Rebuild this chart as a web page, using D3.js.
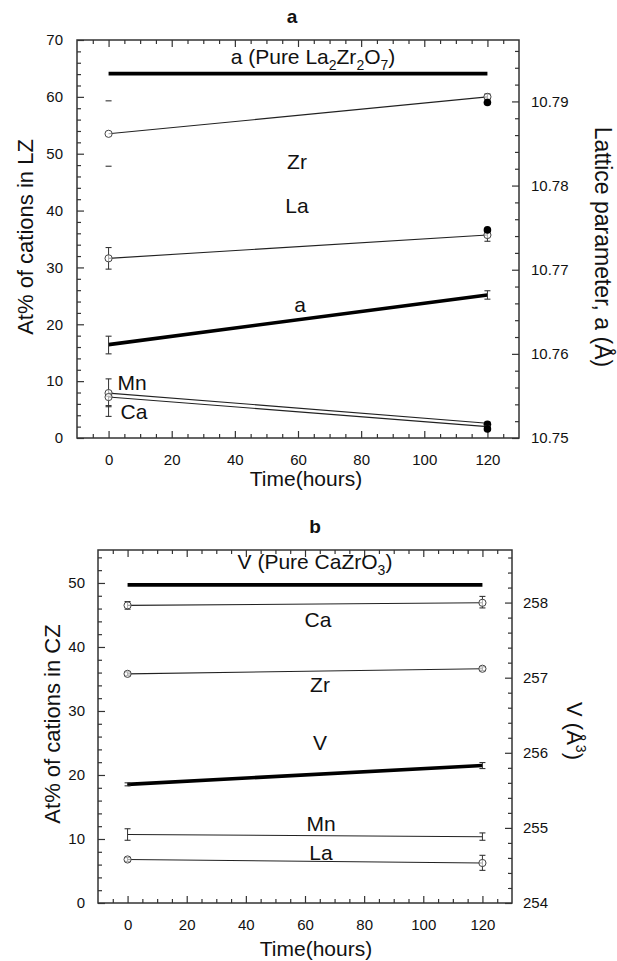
<!DOCTYPE html>
<html><head><meta charset="utf-8">
<script src="https://cdn.jsdelivr.net/npm/d3@7"></script>
<style>
body{margin:0;background:#fff}
svg{display:block}
text{font-family:"Liberation Sans",Arial,Helvetica,sans-serif;fill:#111}
</style>
</head><body>
<svg id="c" width="617" height="961"></svg>
<script>
// ---------- DATA ----------
const hours = [0, 120];
const xMajorTicks = [0, 20, 40, 60, 80, 100, 120];

// Panel a : At% of cations in LZ (left axis)
const aZr = [53.5, 60.0];
const aZrLo = [47.8, 59.6];
const aZrHi = [59.3, 60.5];
const aZrSolid = [null, 59.0];
const aLa = [31.6, 35.7];
const aLaLo = [29.7, 34.6];
const aLaHi = [33.5, 36.7];
const aLaSolid = [null, 36.6];
const aMn = [7.9, 2.6];
const aMnLo = [5.5, 2.4];
const aMnHi = [10.4, 2.8];
const aMnSolid = [null, 2.4];
const aCa = [7.2, 2.0];
const aCaLo = [3.8, 1.8];
const aCaHi = [5.7, 2.2];
const aCaSolid = [null, 1.6];
// Panel a : lattice parameter (right axis)
const aLattice = [10.7611, 10.7670];
const aLatticeLo = [10.7600, 10.7665];
const aLatticeHi = [10.7621, 10.7675];
const aLatticePure = [10.7933, 10.7933];
const aLeftTicks = [0, 10, 20, 30, 40, 50, 60, 70];
const aRightTicks = [10.75, 10.76, 10.77, 10.78, 10.79];

// Panel b : At% of cations in CZ (left axis)
const bCa = [46.5, 46.9];
const bCaLo = [45.9, 46.1];
const bCaHi = [47.1, 47.9];
const bZr = [35.8, 36.6];
const bZrLo = [35.5, 36.3];
const bZrHi = [36.1, 36.9];
const bMn = [10.7, 10.35];
const bMnLo = [9.8, 9.8];
const bMnHi = [11.6, 10.95];
const bLa = [6.8, 6.25];
const bLaLo = [6.5, 5.1];
const bLaHi = [7.1, 7.45];
// Panel b : V (right axis)
const bV = [255.58, 255.83];
const bVLo = [255.56, 255.79];
const bVHi = [255.60, 255.87];
const bVPure = [258.236, 258.236];
const bLeftTicks = [0, 10, 20, 30, 40, 50];
const bRightTicks = [254, 255, 256, 257, 258];

// ---------- DRAW ----------
const svg = d3.select("#c");
const INK = "#222";

function styleAxis(sel) {
  sel.select(".domain").remove();
  sel.attr("font-family", null).attr("font-size", null);
  sel.selectAll(".tick line").attr("stroke", "#333").attr("stroke-width", 1.2);
  sel.selectAll(".tick text").attr("font-size", 15).attr("fill", "#111");
}

function panel(cfg) {
  const g = svg.append("g");
  const x = d3.scaleLinear().domain([-10, 130]).range([cfg.left, cfg.right]);
  const yL = d3.scaleLinear().domain(cfg.yLDomain).range([cfg.bottom, cfg.top]);
  const yR = d3.scaleLinear().domain(cfg.yRDomain).range([cfg.bottom, cfg.top]);

  const xMinor = d3.range(-5, 130, 5).filter(v => v % 20 !== 0);
  const lMinor = d3.range(0, cfg.yLDomain[1], cfg.lMinorStep).filter(v => Math.abs(v / cfg.lMajorStep - Math.round(v / cfg.lMajorStep)) > 1e-6);
  const rMinor = d3.range(0, Math.floor((cfg.yRDomain[1] - cfg.yRDomain[0]) / cfg.rMinorStep + 1e-6) + 1)
    .map(i => cfg.yRDomain[0] + i * cfg.rMinorStep)
    .filter(v => Math.abs((v - cfg.yRDomain[0]) / cfg.rMajorStep - Math.round((v - cfg.yRDomain[0]) / cfg.rMajorStep)) > 1e-6);

  const add = (ax, tr) => g.append("g").attr("transform", tr).call(ax).call(styleAxis);
  // bottom axis
  add(d3.axisBottom(x).tickValues(xMajorTicks).tickSize(-7).tickPadding(16).tickFormat(d3.format("d")), `translate(0,${cfg.bottom})`);
  add(d3.axisBottom(x).tickValues(xMinor).tickSize(-4).tickFormat(() => ""), `translate(0,${cfg.bottom})`);
  // top axis
  add(d3.axisTop(x).tickValues(xMajorTicks).tickSize(-7).tickFormat(() => ""), `translate(0,${cfg.top})`);
  add(d3.axisTop(x).tickValues(xMinor).tickSize(-4).tickFormat(() => ""), `translate(0,${cfg.top})`);
  // left axis
  add(d3.axisLeft(yL).tickValues(cfg.leftTicks).tickSize(-7).tickPadding(cfg.lPad).tickFormat(d3.format("d")), `translate(${cfg.left},0)`);
  add(d3.axisLeft(yL).tickValues(lMinor).tickSize(-4).tickFormat(() => ""), `translate(${cfg.left},0)`);
  // right axis
  add(d3.axisRight(yR).tickValues(cfg.rightTicks).tickSize(-7).tickPadding(cfg.rPad).tickFormat(d3.format(cfg.rFmt)), `translate(${cfg.right},0)`);
  add(d3.axisRight(yR).tickValues(rMinor).tickSize(-4).tickFormat(() => ""), `translate(${cfg.right},0)`);

  // frame
  g.append("rect").attr("x", cfg.left).attr("y", cfg.top)
    .attr("width", cfg.right - cfg.left).attr("height", cfg.bottom - cfg.top)
    .attr("fill", "none").attr("stroke", "#333").attr("stroke-width", 1.5);

  // series
  cfg.series.forEach(s => {
    const y = s.axis === "right" ? yR : yL;
    const pts = hours.map((h, i) => [x(h), y(s.vals[i])]);
    g.append("path").attr("d", d3.line()(pts)).attr("fill", "none")
      .attr("stroke", s.thick ? "#000" : INK).attr("stroke-width", s.thick ? 3.6 : 1.1);
    if (s.lo) {
      hours.forEach((h, i) => {
        const cx = x(h), y1 = y(s.lo[i]), y2 = y(s.hi[i]);
        if (s.stem !== false || i > 0)
          g.append("line").attr("x1", cx).attr("x2", cx).attr("y1", y1).attr("y2", y2).attr("stroke", "#333").attr("stroke-width", 1);
        [y1, y2].forEach(yy => g.append("line").attr("x1", cx - 3).attr("x2", cx + 3).attr("y1", yy).attr("y2", yy).attr("stroke", "#333").attr("stroke-width", 1.1));
      });
    }
    if (s.open) {
      hours.forEach((h, i) => {
        if (!s.open[i]) return;
        g.append("circle").attr("cx", x(h)).attr("cy", y(s.vals[i])).attr("r", 3.6)
          .attr("fill", "#fff").attr("fill-opacity", 0.6).attr("stroke", "#444").attr("stroke-width", 1);
      });
    }
    if (s.solid) {
      hours.forEach((h, i) => {
        if (s.solid[i] == null) return;
        g.append("circle").attr("cx", x(h)).attr("cy", y(s.solid[i])).attr("r", 3.8).attr("fill", "#000");
      });
    }
  });

  // in-plot labels
  cfg.labels.forEach(l => {
    const t = g.append("text").attr("x", l.x).attr("y", l.y).attr("text-anchor", "middle").attr("font-size", 21);
    l.parts.forEach(p => {
      const ts = t.append("tspan").text(p[0]);
      if (p[1] === "sub") ts.attr("font-size", 14).attr("dy", 6);
      else if (p[1] === "back") ts.attr("dy", -6);
    });
  });
}

panel({
  left: 77, right: 519, top: 40, bottom: 438,
  yLDomain: [0, 70], yRDomain: [10.75, 10.7973],
  leftTicks: aLeftTicks, rightTicks: aRightTicks, rFmt: ".2f",
  lMajorStep: 10, lMinorStep: 2, rMajorStep: 0.01, rMinorStep: 0.002,
  lPad: 14, rPad: 12,
  series: [
    {vals: aLatticePure, axis: "right", thick: true},
    {vals: aZr, lo: aZrLo, hi: aZrHi, open: [true, true], solid: aZrSolid, stem: false},
    {vals: aLa, lo: aLaLo, hi: aLaHi, open: [true, true], solid: aLaSolid},
    {vals: aLattice, lo: aLatticeLo, hi: aLatticeHi, axis: "right", thick: true},
    {vals: aMn, lo: aMnLo, hi: aMnHi, open: [true, false], solid: aMnSolid},
    {vals: aCa, lo: aCaLo, hi: aCaHi, open: [true, false], solid: aCaSolid}
  ],
  labels: [
    {x: 313, y: 64, parts: [["a (Pure La"], ["2", "sub"], ["Zr", "back"], ["2", "sub"], ["O", "back"], ["7", "sub"], [")", "back"]]},
    {x: 297, y: 169, parts: [["Zr"]]},
    {x: 297, y: 213, parts: [["La"]]},
    {x: 300, y: 312, parts: [["a"]]},
    {x: 132, y: 390, parts: [["Mn"]]},
    {x: 134, y: 419, parts: [["Ca"]]}
  ]
});

panel({
  left: 98, right: 512, top: 550, bottom: 903,
  yLDomain: [0, 55.15], yRDomain: [254, 258.7],
  leftTicks: bLeftTicks, rightTicks: bRightTicks, rFmt: "d",
  lMajorStep: 10, lMinorStep: 2, rMajorStep: 1, rMinorStep: 0.2,
  lPad: 13, rPad: 11,
  series: [
    {vals: bVPure, axis: "right", thick: true},
    {vals: bCa, lo: bCaLo, hi: bCaHi, open: [true, true]},
    {vals: bZr, lo: bZrLo, hi: bZrHi, open: [true, true]},
    {vals: bV, lo: bVLo, hi: bVHi, axis: "right", thick: true},
    {vals: bMn, lo: bMnLo, hi: bMnHi},
    {vals: bLa, lo: bLaLo, hi: bLaHi, open: [true, true]}
  ],
  labels: [
    {x: 315, y: 569, parts: [["V (Pure CaZrO"], ["3", "sub"], [")", "back"]]},
    {x: 318, y: 627, parts: [["Ca"]]},
    {x: 320, y: 692, parts: [["Zr"]]},
    {x: 320, y: 750, parts: [["V"]]},
    {x: 321, y: 831, parts: [["Mn"]]},
    {x: 321, y: 860, parts: [["La"]]}
  ]
});

// titles & axis titles
const txt = (x, y, s, size, opts = {}) => {
  const t = svg.append("text").attr("x", x).attr("y", y).attr("text-anchor", "middle").attr("font-size", size).text(s);
  if (opts.bold) t.attr("font-weight", "bold");
  if (opts.rot) t.attr("transform", `rotate(${opts.rot},${x},${y})`).attr("dy", "0.35em");
  return t;
};
txt(292, 23, "a", 19, {bold: true});
txt(315, 533, "b", 19, {bold: true});
txt(306, 486, "Time(hours)", 21);
txt(316, 956, "Time(hours)", 21);
txt(25, 237, "At% of cations in LZ", 22, {rot: -90});
txt(52, 724, "At% of cations in CZ", 22, {rot: -90});
txt(603, 247, "Lattice parameter, a (Å)", 23, {rot: 90});
const vl = svg.append("text").attr("x", 575).attr("y", 731).attr("text-anchor", "middle").attr("font-size", 22)
  .attr("transform", "rotate(90,575,731)").attr("dy", "0.35em");
vl.append("tspan").text("V (Å");
vl.append("tspan").text("3").attr("font-size", 14).attr("dy", -9);
vl.append("tspan").text(")").attr("dy", 9);
</script>
</body></html>
